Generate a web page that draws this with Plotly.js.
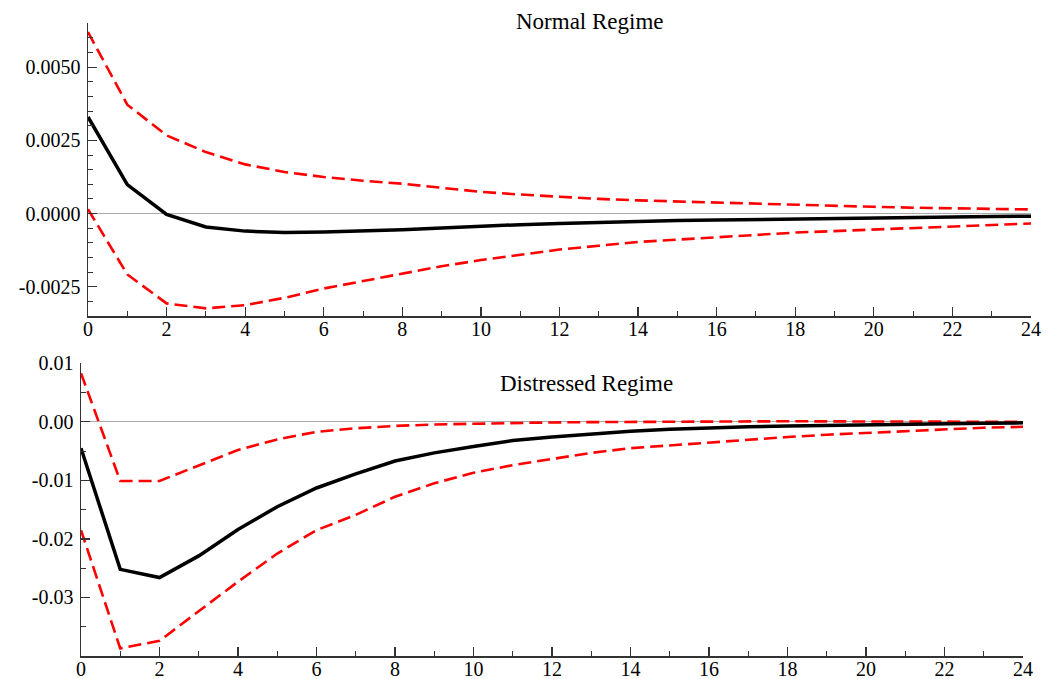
<!DOCTYPE html>
<html>
<head>
<meta charset="utf-8">
<script src="https://cdn.plot.ly/plotly-3.0.1.min.js"></script>
<style>html,body{margin:0;padding:0;background:#fff;}#chart{width:1056px;height:679px;}</style>
</head>
<body>
<div id="chart"></div>
<script>
// Horizons
const horizon = [0,1,2,3,4,5,6,7,8,9,10,11,12,13,14,15,16,17,18,19,20,21,22,23,24];

// Normal regime
const normalIRF   = [0.0033,0.00099,-0.00003,-0.00046,-0.0006,-0.00065,-0.00063,-0.0006,-0.00055,-0.00049,-0.00043,-0.00038,-0.00034,-0.0003,-0.00026,-0.00024,-0.00022,-0.0002,-0.00017,-0.00015,-0.00014,-0.00013,-0.00012,-0.0001,-0.00009];
const normalUpper = [0.0062,0.00372,0.00267,0.0021,0.00168,0.00142,0.00125,0.00112,0.00102,0.00087,0.00074,0.00065,0.00057,0.0005,0.00045,0.00041,0.00037,0.00033,0.00029,0.00026,0.00023,0.0002,0.00018,0.00016,0.00014];
const normalLower = [0.00015,-0.00208,-0.00307,-0.00324,-0.00313,-0.00288,-0.00256,-0.0023,-0.00205,-0.0018,-0.00159,-0.0014,-0.00123,-0.0011,-0.00097,-0.00089,-0.00082,-0.00073,-0.00065,-0.0006,-0.00055,-0.00049,-0.00043,-0.00038,-0.00034];

// Distressed regime
const distIRF   = [-0.0045,-0.0252,-0.0266,-0.0229,-0.0184,-0.0145,-0.0113,-0.0089,-0.0067,-0.0053,-0.0042,-0.0032,-0.0026,-0.0021,-0.0016,-0.00125,-0.00098,-0.00085,-0.00073,-0.0006,-0.0005,-0.0004,-0.0003,-0.00022,-0.00017];
const distUpper = [0.0083,-0.0101,-0.0101,-0.0074,-0.0048,-0.0030,-0.0017,-0.0011,-0.0007,-0.00045,-0.0003,-0.0002,-0.0001,-0.00005,0.0,0.00005,0.0001,0.0001,0.0001,0.00008,0.00005,0.00003,0.0,0.0,0.0];
const distLower = [-0.0185,-0.0387,-0.0374,-0.0324,-0.0273,-0.0225,-0.0185,-0.0159,-0.0128,-0.0105,-0.0087,-0.0074,-0.0063,-0.0053,-0.0045,-0.004,-0.0035,-0.003,-0.0026,-0.0022,-0.0019,-0.0016,-0.0013,-0.001,-0.00085];

// Tick labels
const topTickVals = [-0.0025,0,0.0025,0.005];
const topTickText = ["-0.0025","0.0000","0.0025","0.0050"];
const botTickVals = [-0.03,-0.02,-0.01,0,0.01];
const botTickText = ["-0.03","-0.02","-0.01","0.00","0.01"];

const titles = ["Normal Regime","Distressed Regime"];

const FONT = "Liberation Serif, Times New Roman, serif";
const redDash = {color:'#ff0000', width:2.6, dash:'13px,6px'};
const blackLine = {color:'#000000', width:3.5};

function tr(y, xa, ya, line){
  return {x:horizon, y:y, xaxis:xa, yaxis:ya, type:'scatter', mode:'lines', line:line, hoverinfo:'skip', showlegend:false, cliponaxis:false};
}

const data = [
  tr(normalUpper,'x','y',redDash),
  tr(normalLower,'x','y',redDash),
  tr(normalIRF,'x','y',blackLine),
  tr(distUpper,'x2','y2',redDash),
  tr(distLower,'x2','y2',redDash),
  tr(distIRF,'x2','y2',blackLine)
];

const W = 1056, H = 679;
const axCol = '#333333';
function xax(d0,d1,anchor){
  return {domain:[d0/W,d1/W], anchor:anchor, range:[0,24], tickmode:'linear', tick0:0, dtick:2,
    ticks:'inside', ticklen:9, tickwidth:1.2, tickcolor:axCol, showline:true, linecolor:axCol, linewidth:1.5,
    showgrid:false, zeroline:false, tickfont:{family:FONT,size:20,color:'#000'}, ticklabelstandoff:-6,
    minor:{tickmode:'linear', tick0:0, dtick:1, ticks:'inside', ticklen:5, tickwidth:1, tickcolor:axCol, showgrid:false}};
}
function yax(top,bot,anchor,range,vals,text,mdt){
  return {domain:[(H-bot)/H,(H-top)/H], anchor:anchor, range:range, tickmode:'array', tickvals:vals, ticktext:text,
    ticks:'inside', ticklen:9, tickwidth:1.2, tickcolor:axCol, showline:true, linecolor:axCol, linewidth:1.5,
    showgrid:false, zeroline:true, zerolinecolor:'#aaaaaa', zerolinewidth:1,
    tickfont:{family:FONT,size:20,color:'#000'}, ticklabelstandoff:2,
    minor:{tickmode:'linear', tick0:0, dtick:mdt, ticks:'inside', ticklen:5, tickwidth:1, tickcolor:axCol, showgrid:false}};
}

const layout = {
  width:W, height:H, margin:{l:0,r:0,t:0,b:0}, paper_bgcolor:'#fff', plot_bgcolor:'#fff',
  showlegend:false,
  xaxis: xax(88,1031,'y'),
  yaxis: yax(23.3,316,'x',[-0.0035,0.0065],topTickVals,topTickText,0.0005),
  xaxis2: xax(81,1023,'y2'),
  yaxis2: yax(363.3,656,'x2',[-0.04,0.01],botTickVals,botTickText,0.005),
  annotations:[
    {text:titles[0], xref:'paper', yref:'paper', x:590/W, y:(H-22)/H, xanchor:'center', yanchor:'middle', showarrow:false, font:{family:FONT,size:23,color:'#000'}},
    {text:titles[1], xref:'paper', yref:'paper', x:586/W, y:(H-383)/H, xanchor:'center', yanchor:'middle', showarrow:false, font:{family:FONT,size:23,color:'#000'}}
  ]
};

Plotly.newPlot('chart', data, layout, {displayModeBar:false, staticPlot:true});
</script>
</body>
</html>
